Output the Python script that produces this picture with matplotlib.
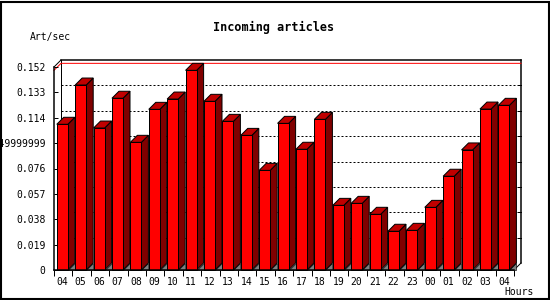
import matplotlib
matplotlib.use("Agg")
import matplotlib.pyplot as plt
from matplotlib.patches import Polygon, Rectangle

# data
hours = ['04', '05', '06', '07', '08', '09', '10', '11', '12', '13', '14', '15',
         '16', '17', '18', '19', '20', '21', '22', '23', '00', '01', '02', '03', '04']
art_per_sec = [0.1091, 0.1385, 0.1063, 0.1286, 0.0956, 0.1203, 0.1280, 0.1495,
               0.1263, 0.1113, 0.1008, 0.0746, 0.1098, 0.0904, 0.1128, 0.0484,
               0.0499, 0.0417, 0.0290, 0.0297, 0.0469, 0.0702, 0.0899, 0.1205,
               0.1233]
ytick_vals = [0, 0.019, 0.038, 0.057, 0.076, 0.095, 0.114, 0.133, 0.152]
ytick_labels = ['0', '0.019', '0.038', '0.057', '0.076', '0.0949999999',
                '0.114', '0.133', '0.152']

W, H = 550, 300
fig = plt.figure(figsize=(5.5, 3.0), dpi=100)
mono = 'DejaVu Sans Mono'
px = 0.72  # one pixel in points

# front plane of the 3d box
ax = fig.add_axes([54 / W, 30 / H, 460 / W, 203 / H])
n = len(hours)
ymax = 0.152
ax.set_xlim(0, n)
ax.set_ylim(0, ymax)
for s in ax.spines.values():
    s.set_visible(False)

# depth of the 3d effect in data units (about 7 px)
dx = 7 / (460 / n)
dy = 7 / 203 * ymax

k = dict(clip_on=False)
# back plane frame + grid
ax.plot([dx, n + dx], [ymax + dy, ymax + dy], color='black', lw=1.5 * px, zorder=1, **k)
ax.plot([n + dx, n + dx], [dy, ymax + dy], color='black', lw=1.5 * px, zorder=1, **k)
ax.plot([dx, dx], [dy, ymax + dy], color='black', lw=px, zorder=1, **k)
ax.plot([0, dx], [ymax, ymax + dy], color='black', lw=px, zorder=1, **k)
ax.plot([n, n + dx], [0, dy], color='black', lw=px, zorder=1, **k)
for t in ytick_vals[1:-1]:
    ax.plot([dx, n + dx], [t + dy, t + dy], color='black', lw=px,
            linestyle=(0, (2, 2)), zorder=1, **k)
    ax.plot([n + dx - 0.15, n + dx], [t + dy, t + dy], color='black', lw=px, zorder=1, **k)

# max line
vmax = max(art_per_sec)
ax.plot([0, dx, n + dx], [vmax, vmax + dy, vmax + dy], color='red', lw=px, zorder=1.5, **k)

# front axis lines
ax.plot([0, 0], [0, ymax], color='black', lw=1.5 * px, zorder=5, **k)
ax.plot([0, n], [0, 0], color='black', lw=1.5 * px, zorder=5, **k)

# bars
bw = 0.6
for i, v in enumerate(art_per_sec):
    x0 = i + 0.15
    x1 = x0 + bw
    z = 2 + i * 0.01
    ax.add_patch(Polygon([(x1, 0), (x1 + dx, 0), (x1 + dx, dy)], closed=True,
                         facecolor='#808080', edgecolor='black', lw=0.6 * px, zorder=z, **k))
    ax.add_patch(Polygon([(x1, 0), (x1 + dx, dy), (x1 + dx, v + dy), (x1, v)], closed=True,
                         facecolor='#800000', edgecolor='black', lw=px, zorder=z, **k))
    ax.add_patch(Polygon([(x0, v), (x0 + dx, v + dy), (x1 + dx, v + dy), (x1, v)], closed=True,
                         facecolor='#c00000', edgecolor='black', lw=px, zorder=z, **k))
    ax.add_patch(Rectangle((x0, 0), bw, v, facecolor='#ff0000', edgecolor='black',
                           lw=px, zorder=z, **k))

# ticks
ax.set_yticks(ytick_vals)
ax.set_yticklabels(ytick_labels, fontfamily=mono, fontsize=7)
ax.tick_params(axis='y', direction='in', length=3, width=px, pad=6)
ax.set_xticks([i + 0.45 for i in range(n)])
ax.set_xticklabels(hours, fontfamily=mono, fontsize=7)
ax.set_xticks(range(n + 1), minor=True)
ax.tick_params(axis='x', which='major', length=0, pad=5)
ax.tick_params(axis='x', which='minor', direction='out', length=4, width=px)

fig.text(274 / W, 1 - 27 / H, 'Incoming articles', ha='center', va='center',
         fontfamily=mono, fontsize=8.5, fontweight='bold')
fig.text(30 / W, 1 - 37 / H, 'Art/sec', ha='left', va='center',
         fontfamily=mono, fontsize=7)
fig.text(534 / W, 1 - 292 / H, 'Hours', ha='right', va='center',
         fontfamily=mono, fontsize=7)

# outer border
fig.add_artist(Rectangle((0.5 / W, 1.5 / H), 548 / W, 297 / H, transform=fig.transFigure,
                         fill=False, edgecolor='black', lw=1.5))

fig.savefig('out.png', dpi=100)
